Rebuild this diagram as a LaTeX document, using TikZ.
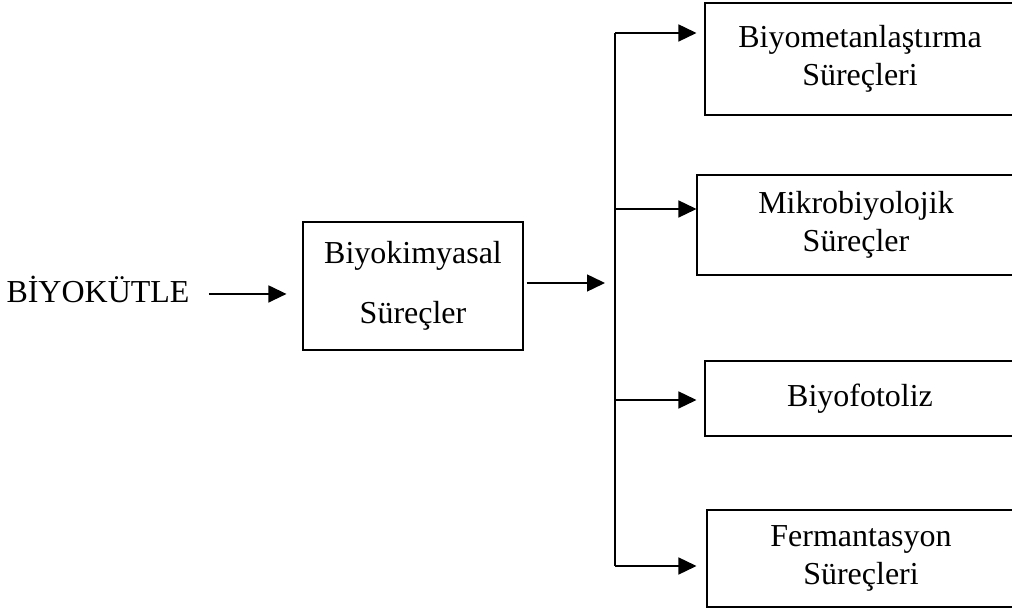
\documentclass[tikz,border=0pt]{standalone}
\usepackage{fontspec}
\setmainfont{Liberation Serif}
\usetikzlibrary{arrows.meta, positioning}

\begin{document}
\begin{tikzpicture}[
        every node/.style={font=\fontsize{18.2}{21.3}\selectfont},
        box/.style={rectangle, draw, line width=0.6pt, inner sep=0pt, align=center},
        line/.style={-, line width=0.8pt},
        arr/.style={line, -{Triangle[length=0.36cm, width=0.34cm]}}
    ]
        \useasboundingbox (0,0) rectangle (20.24,12.24);

        % Input and first step
        \node[inner sep=0pt, anchor=base] (bio) at (1.96,6.18) {BİYOKÜTLE};
        \node[box, minimum width=4.4cm, minimum height=2.56cm] (bk) at (8.26,6.52) {Biyokimyasal\\[0.45cm]Süreçler};

        \draw[arr, shorten <=0.38cm, shorten >=0.32cm] ([yshift=-0.08cm]bio.east) -- ([yshift=-0.08cm]bio.east -| bk.west);

        % Junction and trunk
        \coordinate (j) at (12.10,6.58);
        \coordinate (t1) at (12.30,11.58);
        \coordinate (t2) at (12.30,8.06);
        \coordinate (t3) at (12.30,4.24);
        \coordinate (t4) at (12.30,0.92);

        \draw[arr, shorten <=0.06cm] (bk.east |- j) -- (j);
        \draw[line] (t1) -- (t4);

        % Process boxes
        \node[box, minimum width=6.2cm, minimum height=2.24cm] (b1) at (17.20,11.06) {Biyometanlaştırma\\Süreçleri};
        \node[box, minimum width=6.36cm, minimum height=2cm] (b2) at (17.12,7.74) {Mikrobiyolojik\\Süreçler};
        \node[box, minimum width=6.2cm, minimum height=1.5cm] (b3) at (17.20,4.27) {Biyofotoliz};
        \node[box, minimum width=6.16cm, minimum height=1.94cm] (b4) at (17.22,1.07) {Fermantasyon\\Süreçleri};

        \draw[arr, shorten >=0.16cm] (t1) -- (t1 -| b1.west);
        \draw[arr] (t2) -- (t2 -| b2.west);
        \draw[arr, shorten >=0.16cm] (t3) -- (t3 -| b3.west);
        \draw[arr, shorten >=0.2cm] (t4) -- (t4 -| b4.west);

    \end{tikzpicture}
\end{document}
